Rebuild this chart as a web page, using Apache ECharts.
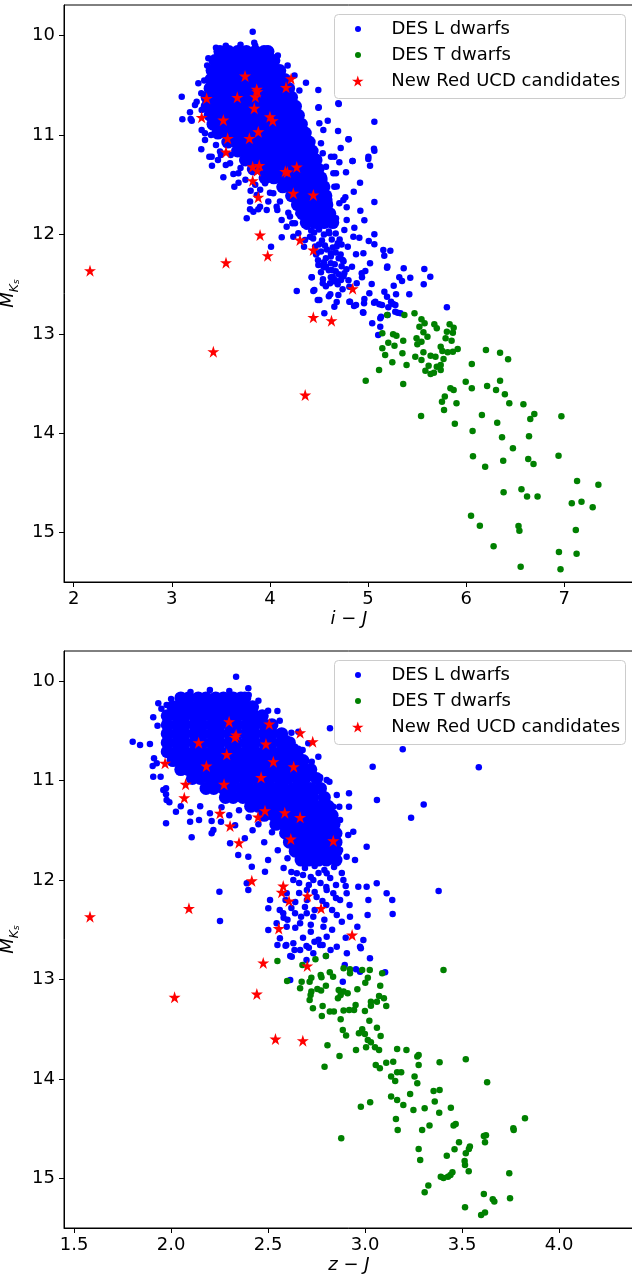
<!DOCTYPE html>
<html><head><meta charset="utf-8">
<script src="https://cdn.jsdelivr.net/npm/echarts@6/dist/echarts.min.js"></script>
<style>html,body{margin:0;padding:0;background:#fff}#c{width:632px;height:1276px}</style>
</head><body><div id="c"></div>
<script>
// ---------- tick labels ----------
const topXTicks = [2, 3, 4, 5, 6, 7];
const botXTicks = [1.5, 2.0, 2.5, 3.0, 3.5, 4.0];
const yTicks = [10, 11, 12, 13, 14, 15];

// ---------- top panel (i - J) ----------
// dense core of the L-dwarf cloud: [M_Ks, [i-J values...]]
const topLCoreRows = [
 [10.16,[3.49,3.58,3.67,3.76,3.85,3.94,3.98]],
 [10.25,[3.44,3.53,3.62,3.71,3.80,3.89,3.98,4.04]],
 [10.35,[3.41,3.50,3.59,3.68,3.77,3.86,3.95,4.04,4.10]],
 [10.44,[3.40,3.49,3.58,3.67,3.76,3.85,3.94,4.03,4.12,4.15]],
 [10.53,[3.39,3.48,3.57,3.66,3.75,3.84,3.93,4.02,4.11,4.19]],
 [10.62,[3.36,3.45,3.54,3.63,3.72,3.81,3.90,3.99,4.08,4.17,4.22]],
 [10.71,[3.36,3.45,3.54,3.63,3.72,3.81,3.90,3.99,4.08,4.17,4.26]],
 [10.80,[3.39,3.48,3.57,3.66,3.75,3.84,3.93,4.02,4.11,4.20,4.29]],
 [10.89,[3.42,3.51,3.60,3.69,3.78,3.87,3.96,4.05,4.14,4.23,4.32]],
 [10.98,[3.47,3.56,3.65,3.74,3.83,3.92,4.01,4.10,4.19,4.28,4.36]],
 [11.07,[3.57,3.66,3.75,3.84,3.93,4.02,4.11,4.20,4.29,4.38,4.40]],
 [11.16,[3.67,3.76,3.85,3.94,4.03,4.12,4.21,4.30,4.39,4.43]],
 [11.25,[3.75,3.84,3.93,4.02,4.11,4.20,4.29,4.38,4.47]],
 [11.34,[3.83,3.92,4.01,4.10,4.19,4.28,4.37,4.46,4.49]],
 [11.43,[3.95,4.04,4.13,4.22,4.31,4.40,4.49,4.52]],
 [11.52,[4.13,4.22,4.31,4.40,4.49,4.55]],
 [11.61,[4.22,4.31,4.40,4.49,4.57]],
 [11.70,[4.28,4.37,4.46,4.55,4.58]],
 [11.79,[4.33,4.42,4.51,4.61]],
 [11.88,[4.37,4.46,4.55,4.64]]
];
const topL = [
 [4.504,12.659],[4.816,12.676],[4.857,12.719],[4.959,12.692],[5.061,12.686],[5.142,12.709],[5.206,12.732],[5.254,12.699],[5.803,12.732],[4.948,12.782],[5.042,12.893],[5.124,12.843],[5.124,12.927],[5.103,13.011],[5.277,12.776],[5.330,12.792],
 [4.497,10.720],[4.701,10.687],[4.589,10.855],[4.503,10.881],[5.064,10.865],[4.694,10.958],[4.803,11.042],[5.064,11.157],[5.002,11.240],[5.020,11.308],[4.843,11.260],[4.707,11.273],[4.918,11.479],[4.775,11.374],[4.854,11.569],[5.064,11.673],[4.768,11.626],[4.921,11.760],[4.782,11.726],[4.962,11.857],[4.860,11.931],[5.064,11.998],[5.064,12.098],[5.007,12.065],[4.911,12.032],[5.227,12.163],[5.165,12.213],[4.877,12.199],[4.972,12.367],[4.836,12.324],[4.938,12.430],[5.037,12.498],[5.193,12.334],[5.363,12.340],[5.573,12.347],[5.634,12.424],[5.567,12.501],[5.430,12.434],[5.318,12.430],[5.346,12.467],[5.261,12.515],[5.420,12.601],[5.285,12.601],[5.166,12.575],[5.193,12.625],[5.013,12.591],[4.962,12.648],[4.809,12.676],[4.877,12.709],[5.074,12.676],[5.234,12.676],[5.278,12.709],[5.114,12.702],[4.952,12.786],[5.132,12.827],[5.200,12.810],[5.302,12.786],[4.615,12.601],
 [4.520,11.082],[4.538,11.183],[4.622,11.217],[4.571,11.318],[4.673,11.384],[4.554,11.451],[4.656,11.519],[4.605,11.653],[4.707,11.686],[4.571,11.786],[4.673,11.837],[4.758,11.954],[4.605,11.988],[4.691,12.088],[4.793,12.123],[4.622,12.189],[4.741,12.256],[4.571,12.324],[4.758,12.390],[4.640,12.424],[4.538,12.491],[4.724,12.458],[4.487,12.659],[4.656,12.726],[4.554,12.793],
 [3.824,9.960],[3.840,10.070],[4.367,10.473],[3.101,10.613],[3.107,10.841],[3.203,10.855],[3.185,10.770],[3.253,10.664],[3.270,10.479],[3.372,10.227],[3.304,10.747],[3.304,10.948],[3.338,11.049],[3.300,11.143],[3.382,11.217],[3.409,11.308],[3.525,11.424],[3.627,11.391],[3.637,11.519],[3.593,11.283],[3.763,11.837],[3.797,11.746],[3.881,11.746],[3.967,11.753],[4.075,11.753],[4.000,11.579],[4.120,12.028],[4.011,12.122],[4.228,11.887],[4.289,11.786],[4.238,12.022],[4.347,12.122],[4.273,12.568],[4.426,12.430],[4.442,12.568],
 [3.803,11.559],[3.950,11.485],[4.034,11.586],[4.102,11.669],[4.187,11.780],[4.255,11.887],[4.068,11.720],[3.983,11.669],[3.899,11.720],[3.831,11.770],[4.119,11.854],[4.170,11.921],[4.204,11.820],[3.797,11.669],[3.865,11.602],[4.289,11.988],[4.374,11.921],[4.357,12.055],[4.408,12.022],[4.476,12.189],[4.544,12.323],[4.629,12.357],[4.663,12.457],
 [3.192,10.838],[3.236,10.697],[3.338,10.982],[3.406,11.217],[3.491,11.166],[3.678,11.384],
 [4.493,10.546],[4.493,10.724],[4.697,10.680],[4.799,11.042],[4.721,11.130],[4.656,11.217],[4.840,11.260],[5.003,11.217],[5.060,11.136],
 [4.425,12.431],[4.452,12.558],[4.612,12.491],[4.731,12.424],[4.809,12.525],[4.697,12.608],[4.493,12.307],
 [4.544,10.948],[4.646,11.384],[4.680,11.518],[4.748,11.653],[4.782,11.854],[4.850,12.022],[4.952,12.189],[5.020,12.290],[4.935,12.390],[4.884,12.491],[5.155,12.156],[5.196,12.323],
 [4.45,11.98],[4.55,12.00],[4.63,12.05],[4.50,12.10],[4.68,12.12],[4.58,12.15],[4.47,12.20],[4.62,12.22],[4.72,12.20],[4.55,12.28],[4.66,12.30],[4.75,12.27],[4.60,12.36],[4.70,12.40],[4.52,12.38],[4.78,12.35],[4.65,12.47],[4.57,12.52],[4.74,12.55],[4.60,12.62],[4.68,12.68],
 [4.42,11.96],[4.50,11.95],[4.60,11.97],[4.67,11.99],[4.44,12.04],[4.53,12.06],[4.71,12.05],[4.46,12.12],[4.56,12.11],[4.64,12.13],[4.73,12.10],[4.52,12.17],[4.67,12.18],[4.57,12.24],[4.70,12.24],[4.49,12.26],[4.62,12.29],[4.73,12.32],[4.67,12.37],[4.56,12.33],[4.75,12.42],[4.62,12.43],[4.69,12.50],[4.80,12.46],[4.54,12.45],
 [3.45,10.12],[3.55,10.10],[3.70,10.09],[3.85,10.10],[3.97,10.13],[4.08,10.20],[4.18,10.30],[4.25,10.40],[4.30,10.55],[3.36,10.30],[3.33,10.45],[3.30,10.58],
 [3.40,11.00],[3.45,11.10],[3.50,11.20],[3.55,11.30],[3.47,11.25],[3.60,11.20],[3.70,11.33],[3.75,11.45],[3.68,11.48],[3.85,11.50],[3.90,11.55]
];
const topT = [
 [5.370,12.810],[5.473,12.793],[5.194,12.810],[5.544,12.853],[5.576,12.893],[5.675,12.903],[5.700,12.943],[5.831,12.903],[5.872,12.937],[5.523,12.927],
 [5.564,12.984],[5.494,13.044],[5.605,13.028],[5.544,13.078],[5.502,13.104],[5.803,12.978],[5.864,12.988],[5.790,13.044],[5.851,13.068],[5.740,13.128],
 [5.757,13.172],[5.811,13.185],[5.864,13.179],[5.913,13.152],[5.564,13.185],[5.637,13.219],[5.687,13.229],[5.769,13.252],[5.544,13.262],[5.481,13.229],
 [5.617,13.320],[5.740,13.313],[5.700,13.330],[5.740,13.363],[5.584,13.370],[5.637,13.403],[5.671,13.390],[5.145,12.994],[5.255,13.004],[5.289,13.018],
 [5.206,13.088],[5.358,13.068],[5.269,13.118],[5.145,13.145],[5.174,13.212],[5.350,13.195],[5.247,13.285],[5.392,13.313],[5.112,13.363],[4.976,13.471],
 [5.358,13.504],[6.201,13.162],[6.345,13.189],[6.427,13.255],[6.057,13.302],[5.995,13.481],[6.057,13.547],[6.213,13.524],[6.304,13.564],[6.345,13.471],
 [6.394,13.607],[6.439,13.698],[6.583,13.708],[5.839,13.547],[5.872,13.564],[5.782,13.631],[5.901,13.698],[5.753,13.682],[5.774,13.765],[5.540,13.825],
 [5.884,13.903],[6.160,13.815],[6.316,13.893],[6.653,13.856],[6.694,13.806],[6.970,13.829],[6.065,13.976],[6.365,14.040],[6.640,14.030],[6.476,14.151],
 [6.069,14.231],[6.193,14.336],[6.377,14.275],[6.632,14.258],[6.686,14.309],[6.941,14.225],[7.130,14.480],[7.347,14.517],[6.381,14.593],[6.563,14.563],
 [6.620,14.637],[6.727,14.637],[7.076,14.704],[7.175,14.688],[7.289,14.744],[6.049,14.829],[6.139,14.929],[6.533,14.932],[6.542,14.980],[7.117,14.973],
 [6.279,15.136],[6.945,15.194],[7.125,15.211],[6.555,15.342],[6.961,15.368]
];
const topCand = [
 [3.746,10.405],[4.215,10.432],[4.164,10.519],[3.865,10.539],[3.871,10.563],[3.851,10.614],[3.355,10.630],[3.667,10.620],[3.840,10.730],[3.304,10.821],
 [3.525,10.848],[4.000,10.815],[4.028,10.855],[3.881,10.966],[3.790,11.032],[3.569,11.032],[3.552,11.170],[3.824,11.318],[3.891,11.304],[3.871,11.358],
 [4.156,11.364],[4.177,11.371],[4.273,11.321],[3.824,11.458],[4.238,11.585],[4.442,11.602],[3.881,11.625],[3.899,12.005],[4.306,12.055],[4.442,12.156],
 [3.977,12.213],[3.552,12.283],[2.166,12.364],[4.843,12.545],[4.442,12.833],[4.627,12.867],[3.423,13.179],[4.359,13.615]
];

// ---------- bottom panel (z - J) ----------
const botLCoreRows = [
 [10.17,[2.05,2.09,2.14,2.18,2.23,2.27,2.32,2.36,2.38]],
 [10.26,[2.01,2.05,2.10,2.14,2.19,2.23,2.28,2.32,2.37,2.42]],
 [10.35,[1.98,2.03,2.07,2.12,2.16,2.21,2.25,2.30,2.34,2.39,2.43,2.47]],
 [10.44,[1.98,2.03,2.07,2.12,2.16,2.21,2.25,2.30,2.34,2.39,2.43,2.48,2.52]],
 [10.53,[1.98,2.03,2.07,2.12,2.16,2.21,2.25,2.30,2.34,2.39,2.43,2.48,2.52,2.57]],
 [10.62,[1.98,2.03,2.07,2.12,2.16,2.21,2.25,2.30,2.34,2.39,2.43,2.48,2.52,2.57,2.61]],
 [10.71,[1.98,2.03,2.07,2.12,2.16,2.21,2.25,2.30,2.34,2.39,2.43,2.48,2.52,2.57,2.61,2.65]],
 [10.80,[2.01,2.05,2.10,2.14,2.19,2.23,2.28,2.32,2.37,2.41,2.46,2.50,2.55,2.59,2.64,2.68]],
 [10.89,[2.05,2.09,2.14,2.18,2.23,2.27,2.32,2.36,2.41,2.45,2.50,2.54,2.59,2.63,2.68,2.72]],
 [10.98,[2.11,2.15,2.20,2.24,2.29,2.33,2.38,2.42,2.47,2.51,2.56,2.60,2.65,2.69,2.75]],
 [11.08,[2.18,2.22,2.27,2.31,2.36,2.40,2.45,2.49,2.54,2.58,2.63,2.67,2.72,2.77]],
 [11.17,[2.28,2.32,2.37,2.41,2.46,2.50,2.55,2.59,2.64,2.68,2.73,2.79]],
 [11.26,[2.41,2.45,2.50,2.54,2.59,2.63,2.68,2.72,2.77,2.81]],
 [11.35,[2.48,2.53,2.57,2.62,2.66,2.71,2.75,2.80,2.83]],
 [11.44,[2.54,2.58,2.63,2.67,2.72,2.76,2.81,2.84]],
 [11.53,[2.59,2.63,2.68,2.72,2.77,2.81,2.85]],
 [11.62,[2.61,2.66,2.70,2.75,2.79,2.85]],
 [11.71,[2.64,2.68,2.73,2.77,2.82,2.85]],
 [11.80,[2.67,2.71,2.76,2.80,2.85]]
];
const botL = [
 [2.335,9.957],[2.398,10.074],[1.934,10.224],[1.977,10.242],[1.908,10.365],[1.802,10.610],[1.840,10.643],[1.891,10.633],[1.905,10.854],[1.912,10.777],[1.946,10.962],[1.974,11.078],[1.974,11.139],[1.991,11.219],[2.025,11.313],[1.974,11.430],[2.098,11.414],[2.106,11.570],[2.144,11.397],[2.209,11.407],[2.218,11.497],[2.257,11.414],[2.249,12.117],[2.252,12.411],[2.390,12.033],[2.398,12.100],
 [2.548,10.302],[2.596,10.576],[2.639,10.660],[2.678,10.694],[2.819,10.475],[2.759,10.761],[2.725,10.811],[2.768,10.968],[2.816,11.012],[2.854,11.146],[2.917,11.129],[2.917,11.263],[2.867,11.263],[2.939,11.514],[2.913,11.547],[3.008,11.665],[2.948,11.799],[2.905,11.766],[2.965,12.067],[3.008,12.067],[3.060,12.033],[3.111,12.133],[3.140,12.200],[3.017,12.200],[3.013,12.351],[2.960,12.469],[2.922,12.368],[2.974,12.670],[3.025,12.786],[3.103,12.927],
 [1.926,10.827],[1.908,10.962],[1.960,11.095],[1.977,11.196],[2.209,11.530],[2.304,11.631],[2.346,11.748],[2.398,11.765],[2.416,11.866],[2.484,11.916],[2.510,12.200],[2.501,12.284],[2.544,12.435],[2.501,12.502],[2.596,12.469],[2.561,12.585],[2.630,12.635],[2.622,12.770],[2.665,12.703],[2.733,12.736],[2.768,12.652],[2.802,12.569],[2.854,12.670],[2.785,12.469],[2.733,12.368],[2.699,12.334],[2.665,12.435],[2.854,12.351],[2.871,12.200],[2.905,12.133],[2.836,12.133],[2.802,12.100],[2.733,12.000],[2.648,11.933],[2.802,11.933],[2.888,12.000],[2.596,12.133],[2.639,12.334],[2.578,12.334],
 [3.194,10.687],[3.039,10.861],[3.586,10.867],[3.061,11.196],[3.302,11.240],[3.237,11.374],[3.379,12.110],[3.142,12.341],[2.991,12.602],
 [2.548,12.652],[2.594,12.652],[2.636,12.703],[2.698,12.662],[2.739,12.619],[2.781,12.652],[2.822,12.703],[2.906,12.736],[2.978,12.686],[2.614,12.763],[2.698,12.803],[2.798,12.763],[2.895,12.853],[2.953,12.897],[2.974,12.921],[2.614,13.004],[2.885,13.021],
 [2.656,10.510],[2.707,10.626],[2.802,10.995],[2.836,11.263],[2.871,11.397],[2.871,11.698],
 [2.69,11.88],[2.74,11.86],[2.79,11.90],[2.84,11.87],[2.72,11.97],[2.77,12.03],[2.66,12.03],[2.85,12.05],[2.70,12.10],[2.75,12.17],[2.64,12.22],[2.80,12.25],[2.69,12.27],[2.60,12.40],[2.72,12.45],[2.56,12.30],
 [2.62,11.92],[2.68,11.95],[2.76,11.93],[2.82,11.98],[2.88,11.93],[2.63,12.00],[2.71,12.05],[2.80,12.07],[2.90,12.06],[2.66,12.13],[2.74,12.12],[2.85,12.18],[2.59,12.20],[2.70,12.20],[2.78,12.21],[2.92,12.25],[2.62,12.28],[2.74,12.30],[2.83,12.30],[2.58,12.38],[2.67,12.37],[2.79,12.40],[2.88,12.42],[2.64,12.48],[2.72,12.52],[2.83,12.50],[2.68,12.58],[2.76,12.60],[2.90,12.58],[2.59,12.66],[2.71,12.68],
 [2.05,11.26],[2.10,11.32],[2.15,11.26],[2.20,11.33],[2.26,11.27],[2.30,11.35],[2.35,11.30],[2.40,11.37],[2.33,11.45],[2.42,11.50],[2.45,11.44],[2.38,11.58],[2.48,11.62],[2.52,11.52],[2.55,11.70],[2.50,11.80],[2.60,11.78],[2.58,11.88],
 [2.10,10.11],[2.20,10.09],[2.30,10.10],[2.40,10.14],[2.00,10.18],[1.95,10.28],[1.93,10.45],[2.45,10.20],[2.50,10.30],[2.56,10.40],[2.62,10.52]
];
const botT = [
 [2.548,12.813],[2.677,12.853],[2.744,12.796],[2.798,12.763],[2.771,12.954],[2.818,12.927],[2.835,12.971],[2.889,12.887],[2.922,12.897],[2.922,12.937],
 [2.985,12.904],[3.024,12.904],[3.014,12.981],[3.001,13.031],[3.088,12.937],[3.078,13.061],[2.775,12.977],[2.723,12.981],[2.598,13.014],[2.714,13.021],
 [2.673,13.021],[2.665,13.088],[2.723,13.121],[2.754,13.094],[2.719,13.155],[2.714,13.205],[2.773,13.111],[2.798,13.061],[2.864,13.105],[2.874,13.155],
 [2.860,13.188],[2.889,13.121],[2.910,13.138],[2.960,13.098],[2.951,13.255],[2.918,13.305],[2.889,13.312],[2.839,13.322],[2.818,13.322],[2.781,13.265],
 [2.731,13.289],[2.777,13.366],[2.874,13.399],[2.943,13.305],[2.999,13.316],[3.030,13.222],[3.030,13.262],[3.061,13.222],[3.072,13.165],[3.097,13.188],
 [3.109,13.265],[3.022,13.413],[3.061,13.483],[3.080,13.567],[2.985,13.500],[2.999,13.547],[2.885,13.506],[2.902,13.563],[2.968,13.540],[3.005,13.681],
 [3.014,13.607],[3.030,13.630],[3.051,13.681],[3.072,13.707],[3.109,13.835],[3.145,13.825],[3.165,13.697],[3.213,13.707],[3.269,13.774],[3.276,13.758],
 [3.276,13.858],[3.384,13.831],[3.519,13.801],[3.076,13.891],[3.055,13.858],[3.134,13.975],[3.155,14.019],[3.165,13.932],[3.186,13.932],[3.255,13.975],
 [3.269,14.042],[3.232,14.149],[3.134,14.176],[3.165,14.210],[3.197,14.260],[3.249,14.310],[3.307,14.293],[3.359,14.226],[3.353,14.119],[3.384,14.109],
 [3.382,14.337],[3.442,14.287],[3.456,14.467],[3.467,14.451],[3.332,14.467],[3.294,14.511],[3.276,14.702],[3.284,14.812],[3.326,15.070],[3.307,15.137],
 [3.159,14.400],[3.168,14.511],[2.978,14.277],[3.026,14.233],[2.877,14.595],[3.484,14.635],[3.461,14.705],[3.421,14.769],[3.519,14.745],[3.535,14.702],
 [3.540,14.678],[3.513,14.822],[3.515,14.863],[3.534,14.926],[3.390,14.980],[3.404,14.993],[3.427,14.980],[3.440,14.963],[3.450,14.936],[3.612,14.571],
 [3.623,14.565],[3.618,14.635],[3.743,14.946],[3.747,15.197],[3.612,15.154],[3.658,15.207],[3.666,15.231],[3.515,15.288],[3.598,15.365],[3.618,15.341],
 [3.764,14.494],[3.766,14.511],[3.824,14.394],[3.629,14.032],[3.404,12.904],[2.791,13.875],[2.806,13.660],[2.868,13.768],[2.953,13.707]
];
const botCand = [
 [2.299,10.409],[2.506,10.432],[2.665,10.520],[2.730,10.610],[2.142,10.620],[2.335,10.543],[2.329,10.566],[2.489,10.633],[2.287,10.737],[1.969,10.827],
 [2.182,10.854],[2.527,10.811],[2.632,10.861],[2.464,10.968],[2.075,11.038],[2.273,11.038],[2.068,11.173],[2.252,11.329],[2.484,11.303],[2.448,11.367],
 [2.586,11.323],[2.665,11.370],[2.304,11.457],[2.617,11.588],[2.836,11.605],[2.350,11.625],[2.416,12.007],[2.578,12.060],[2.570,12.123],[2.608,12.210],
 [2.703,12.160],[2.773,12.284],[2.092,12.284],[1.582,12.368],[2.555,12.487],[2.933,12.552],[2.475,12.833],[2.702,12.863],[2.018,13.178],[2.442,13.145],
 [2.538,13.597],[2.679,13.614]
];

// ---------- build ----------
function flatRows(rows){const out=[];rows.forEach(r=>r[1].forEach(x=>out.push([x,r[0]])));return out;}
const STAR='path://M0,-1L0.2245,-0.309L0.9511,-0.309L0.3633,0.118L0.5878,0.809L0,0.382L-0.5878,0.809L-0.3633,0.118L-0.9511,-0.309L-0.2245,-0.309Z';
const FONT='DejaVu Sans';
const BLUE='#0000ff', GREEN='#008000', RED='#ff0000';

function xAxisOpt(gi,min,max,ticks,fmt,nameRich){
  return {gridIndex:gi,type:'value',min:min,max:max,
    axisLine:{show:true,onZero:false,lineStyle:{color:'#000',width:1}},
    axisTick:{show:true,customValues:ticks,length:5,lineStyle:{color:'#000',width:1}},
    axisLabel:{customValues:ticks,formatter:fmt,fontSize:18,fontFamily:FONT,color:'#000',margin:8},
    splitLine:{show:false},
    name:nameRich,nameLocation:'middle',nameGap:28,
    nameTextStyle:{fontSize:18,fontFamily:FONT,color:'#000',
      rich:{v:{fontStyle:'italic',fontSize:18,fontFamily:FONT,color:'#000'},o:{fontSize:18,fontFamily:FONT,color:'#000'}}}
  };
}
function yAxisOpt(gi,min,max){
  return {gridIndex:gi,type:'value',inverse:true,min:min,max:max,
    axisLine:{show:true,onZero:false,lineStyle:{color:'#000',width:1}},
    axisTick:{show:true,customValues:yTicks,length:5,lineStyle:{color:'#000',width:1}},
    axisLabel:{customValues:yTicks,formatter:v=>String(Math.round(v)),fontSize:18,fontFamily:FONT,color:'#000',margin:9},
    splitLine:{show:false},
    name:'{m|M}{k|K}{s|s}',nameLocation:'middle',nameRotate:90,nameGap:38,
    nameTextStyle:{color:'#000',
      rich:{m:{fontStyle:'italic',fontSize:18,fontFamily:FONT,color:'#000',lineHeight:22,verticalAlign:'top'},
            k:{fontStyle:'italic',fontSize:12.5,fontFamily:FONT,color:'#000',lineHeight:15,verticalAlign:'bottom'},
            s:{fontStyle:'italic',fontSize:9,fontFamily:FONT,color:'#000',lineHeight:9,verticalAlign:'bottom'}}}
  };
}
function series(gi){
  const core = gi===0?topLCoreRows:botLCoreRows;
  const L = gi===0?topL:botL, T = gi===0?topT:botT, C = gi===0?topCand:botCand;
  const base={type:'scatter',xAxisIndex:gi,yAxisIndex:gi,emphasis:{disabled:true},silent:true,animation:false,large:false};
  return [
    Object.assign({},base,{name:'DES L dwarfs',data:flatRows(core),symbol:'circle',symbolSize:13,itemStyle:{color:BLUE,opacity:1},z:2}),
    Object.assign({},base,{name:'DES L dwarfs',data:L,symbol:'circle',symbolSize:6.5,itemStyle:{color:BLUE,opacity:1},z:2}),
    Object.assign({},base,{name:'DES T dwarfs',data:T,symbol:'circle',symbolSize:6.5,itemStyle:{color:GREEN,opacity:1},z:3}),
    Object.assign({},base,{name:'New Red UCD candidates',data:C,symbol:STAR,symbolSize:12,itemStyle:{color:RED,opacity:1},z:4})
  ];
}
function legendItem(name,icon,size,top,left){
  return {data:[{name:name,icon:icon,itemStyle:{opacity:1}}],left:left,top:top,orient:'vertical',itemWidth:57,itemHeight:size,
    padding:0,itemGap:0,selectedMode:false,z:6,symbolKeepAspect:true,
    textStyle:{fontSize:18,fontFamily:FONT,color:'#000',lineHeight:22}};
}
const legends=[];
[[0,18],[1,664]].forEach(([gi,t])=>{
  legends.push(legendItem('DES L dwarfs','circle',6,t,355));
  legends.push(legendItem('DES T dwarfs','circle',6,t+26,355));
  legends.push(legendItem('New Red UCD candidates',STAR,11,t+52,352));
});

const chart=echarts.init(document.getElementById('c'),null,{renderer:'canvas'});
chart.setOption({
  animation:false,
  backgroundColor:'#fff',
  grid:[
    {left:64,top:5,width:570,height:577,show:true,borderColor:'#000',borderWidth:1,backgroundColor:'transparent',containLabel:false,outerBoundsMode:'none'},
    {left:64,top:651,width:570,height:577,show:true,borderColor:'#000',borderWidth:1,backgroundColor:'transparent',containLabel:false,outerBoundsMode:'none'}
  ],
  xAxis:[
    xAxisOpt(0,1.901,7.710,topXTicks,v=>String(Math.round(v)),'{v|i} {o|−} {v|J}'),
    xAxisOpt(1,1.448,4.386,botXTicks,v=>v.toFixed(1),'{v|z} {o|−} {v|J}')
  ],
  yAxis:[yAxisOpt(0,9.691,15.496),yAxisOpt(1,9.699,15.496)],
  legend:legends,
  graphic:[
    {type:'rect',z:5,shape:{x:334.5,y:14.5,width:291,height:84,r:4},style:{fill:'rgba(255,255,255,0.8)',stroke:'#cccccc',lineWidth:1}},
    {type:'rect',z:5,shape:{x:334.5,y:660.5,width:291,height:84,r:4},style:{fill:'rgba(255,255,255,0.8)',stroke:'#cccccc',lineWidth:1}}
  ],
  series:series(0).concat(series(1))
});
</script></body></html>
